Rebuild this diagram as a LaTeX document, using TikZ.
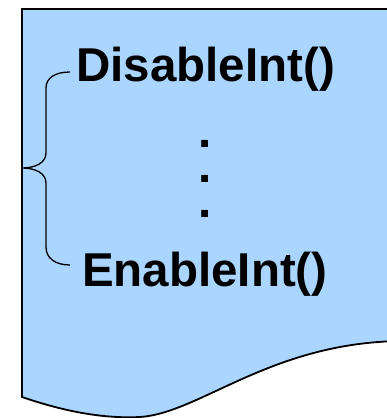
\documentclass[tikz,border=0pt]{standalone}
\usepackage{fontspec}
\setmainfont{Liberation Sans}
\definecolor{docblue}{RGB}{169,213,255}
\begin{document}
\begin{tikzpicture}[x=1pt,y=1pt,
  codetext/.style={font=\fontsize{47.5}{50}\selectfont\bfseries, inner sep=0pt, anchor=base west},
  dottext/.style={font=\fontsize{47.5}{35}\selectfont\bfseries, inner sep=0pt, anchor=base, align=center},
  docshape/.style={fill=docblue, draw=black, line width=1.8pt, line join=miter},
  bracestyle/.style={draw=black, line width=1.3pt}]
\useasboundingbox (0,0) rectangle (387,418);
% document shape
\path[docshape] (400,77) -- (400,409) -- (22,409) -- (22,21)
  .. controls (60,8) and (100,-1) .. (140,1)
  .. controls (200,5) and (270,75) .. (400,77);
% texts
\node[codetext] (dis) at (76,336) {DisableInt()};
\node[dottext] (dots) at (205,200.5) {.\\.\\.};
\node[codetext] (en) at (82,131) {EnableInt()};
% brace
\coordinate (btop) at (70,346);
\coordinate (btip) at (22,250);
\coordinate (bbot) at (70,153);
\path[bracestyle] (btop) .. controls (55,346) and (46,340) .. (46,330)
  -- (46,265) .. controls (46,255) and (35,250) .. (btip)
  .. controls (35,250) and (46,245) .. (46,235)
  -- (46,171) .. controls (46,160) and (55,153) .. (bbot);
\end{tikzpicture}
\end{document}
